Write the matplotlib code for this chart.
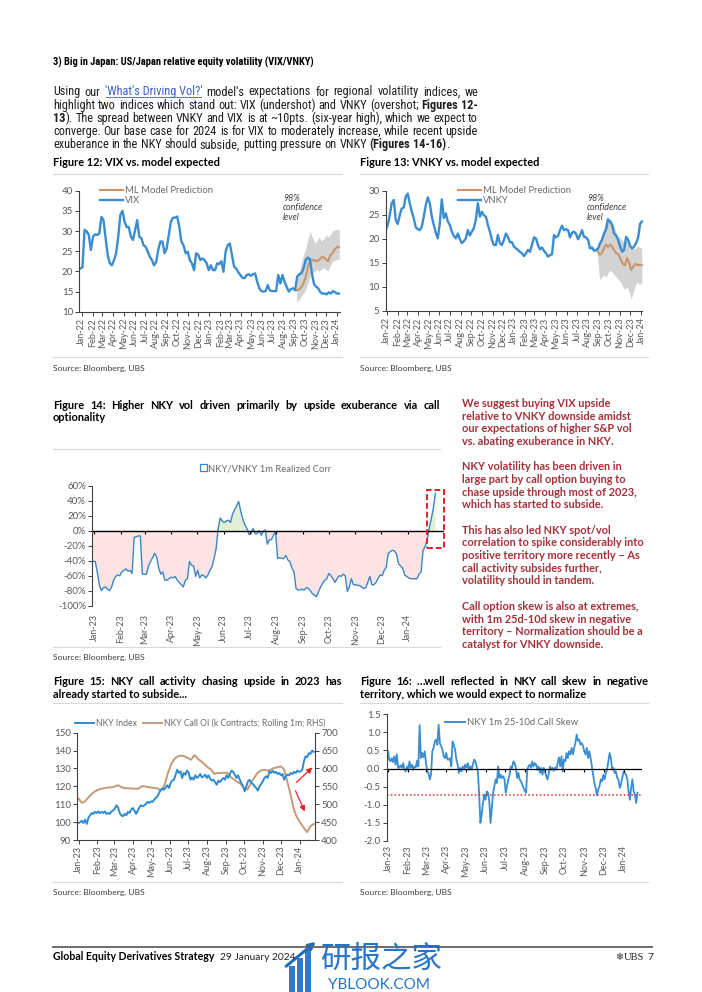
import os
import numpy as np
import pandas as pd
import matplotlib
matplotlib.use('Agg')
import matplotlib.pyplot as plt
import matplotlib.dates as mdates
from matplotlib import font_manager as fm
from matplotlib.font_manager import FontProperties
from matplotlib.lines import Line2D
from matplotlib.patches import Rectangle, FancyArrowPatch, Patch

plt.rcParams['font.family'] = ['Lato', 'DejaVu Sans']

# ---------------- data ----------------
vix = [20.7, 21.0, 30.3, 29.9, 29.0, 25.3, 28.6, 29.2, 29.0, 29.4, 33.5, 32.7, 28.2, 24.0, 22.0, 21.5,
       22.8, 24.5, 28.6, 34.0, 35.0, 32.3, 31.0, 31.0, 28.6, 27.8, 30.2, 32.7, 28.6, 28.2, 26.5, 26.1,
       24.9, 23.6, 22.8, 21.5, 22.3, 25.3, 27.4, 27.4, 24.5, 25.7, 29.0, 32.3, 33.3, 33.3, 33.6, 31.0,
       27.4, 26.5, 24.5, 24.9, 22.8, 22.0, 20.3, 24.5, 24.1, 22.8, 23.2, 22.8, 22.0, 20.3, 21.5, 20.3,
       20.3, 22.0, 21.8, 22.5, 19.9, 24.9, 26.5, 26.9, 24.1, 21.2, 20.7, 19.8, 19.1, 18.4, 18.3, 19.1,
       19.3, 18.9, 19.3, 19.5, 17.4, 15.8, 15.1, 15.0, 15.1, 16.6, 15.3, 15.1, 15.1, 15.1, 19.1, 17.0,
       19.1, 17.4, 16.2, 15.0, 15.6, 15.8, 15.3, 18.7, 19.3, 19.5, 20.7, 22.8, 23.4, 23.1, 19.5, 16.8,
       16.2, 15.8, 14.8, 14.5, 14.5, 14.3, 14.8, 14.5, 15.1, 14.8, 14.5, 14.5]
vix_span = ('2021-12-28', '2024-01-08')
vix_pred = [15.3, 15.5, 16.0, 17.0, 18.5, 21.0, 22.8, 22.7, 22.8, 22.5, 22.8, 23.5, 23.5, 23.0,
            22.5, 24.0, 24.5, 25.5, 26.0, 26.0]
vix_hi = [17.0, 19.5, 22.0, 24.0, 25.5, 28.0, 29.8, 28.5, 27.0, 27.5, 28.5, 27.5, 28.0, 29.0,
          28.5, 29.0, 30.0, 30.3, 30.5, 30.3]
vix_lo = [12.5, 13.0, 13.8, 14.5, 15.5, 17.0, 18.5, 19.5, 20.0, 20.5, 20.0, 20.5, 21.0, 20.5,
          20.0, 21.5, 22.5, 22.8, 23.0, 23.0]
vix_pred_span = ('2023-09-08', '2024-01-08')

vnky = [21.8, 22.9, 24.9, 27.4, 28.1, 23.9, 23.1, 24.9, 26.3, 26.5, 28.8, 29.4, 27.4, 25.6, 24.3, 22.4,
        22.0, 21.8, 22.5, 24.6, 27.0, 28.6, 27.4, 24.6, 22.9, 21.3, 20.1, 23.2, 28.2, 24.3, 25.3, 23.6,
        22.9, 21.5, 20.6, 20.1, 21.1, 19.9, 19.1, 19.5, 20.1, 21.8, 20.7, 21.5, 22.2, 24.0, 27.4, 24.6,
        25.6, 24.9, 24.6, 22.9, 21.5, 19.8, 18.7, 18.7, 20.8, 19.1, 18.7, 19.8, 21.1, 20.4, 19.3, 19.3,
        18.4, 18.0, 17.7, 17.3, 17.0, 16.4, 17.0, 17.7, 17.3, 18.7, 20.3, 20.1, 18.7, 17.8, 18.2, 17.5,
        17.0, 16.3, 16.6, 16.8, 20.8, 20.3, 20.6, 21.8, 22.7, 21.8, 22.0, 21.8, 20.3, 21.3, 21.5, 21.0,
        19.9, 20.8, 21.8, 20.4, 20.3, 19.8, 18.0, 18.2, 17.5, 17.7, 18.0, 19.1, 19.8, 21.1, 22.0, 24.0,
        23.6, 22.9, 21.1, 20.7, 19.8, 18.4, 17.3, 17.7, 20.4, 19.8, 18.5, 18.0, 18.4, 19.1, 20.3, 23.2, 23.6]
vnky_span = ('2021-12-29', '2024-01-04')
vnky_pred = [17.5, 16.7, 17.0, 18.0, 18.8, 18.3, 18.8, 18.3, 17.5, 17.0, 16.7, 15.7, 14.8, 14.5,
             16.0, 15.0, 13.5, 14.3, 14.8, 14.5, 14.6, 14.5]
vnky_hi = [18.0, 19.5, 21.0, 22.0, 24.5, 24.5, 24.0, 23.5, 22.5, 21.0, 20.5, 20.0, 19.5, 19.5,
           19.5, 19.0, 18.5, 18.0, 18.0, 18.5, 18.3, 18.0]
vnky_lo = [16.0, 11.5, 12.0, 12.5, 12.0, 13.0, 13.5, 13.0, 12.5, 12.0, 11.5, 11.0, 10.0, 9.5,
           10.0, 9.0, 7.5, 9.0, 10.5, 11.0, 10.5, 11.0]
vnky_pred_span = ('2023-08-29', '2024-01-03')

corr = [-41, -41, -55, -72, -80, -76, -75, -78, -80, -75, -66, -61, -59, -60, -55, -53, -51, -54, -53, -57,
        -9, -8, -7, -7, -58, -58, -58, -47, -41, -36, -30, -35, -50, -58, -55, -66, -66, -64, -62, -63,
        -61, -66, -69, -72, -75, -66, -64, -41, -46, -47, -61, -53, -63, -59, -60, -63, -59, -53, -48, -37,
        -24, 3, 17, 13, 11, 13, 14, 11, 22, 28, 33, 39, 26, 16, 8, 3, -5, -4, 3, -4,
        -4, 0, -6, -1, 1, -18, -12, -12, -6, -1, -37, -36, -37, -37, -33, -39, -41, -50, -55, -77,
        -79, -79, -78, -79, -76, -77, -80, -84, -86, -88, -81, -75, -70, -66, -64, -57, -60, -64, -69, -64,
        -60, -61, -58, -60, -81, -75, -64, -72, -72, -73, -73, -75, -77, -76, -69, -61, -72, -72, -69, -64,
        -59, -60, -53, -49, -30, -28, -26, -27, -31, -44, -47, -50, -59, -61, -63, -64, -64, -64, -64, -58,
        -55, -26, -21, -12, 4, 16, 30, 50]
corr_span = ('2022-12-31', '2024-02-02')

nky = [99.5, 100, 100.8, 99.5, 101.4, 99, 102.3, 103.8, 105.1, 104.6, 105.7, 105.1, 106, 105.1, 105.7,
       105.1, 106, 104.6, 105.1, 104.6, 106, 106.4, 107.5, 109.4, 108.3, 105.1, 103.8, 103.3, 104.6, 103.8,
       105.7, 105.1, 107, 107.9, 106.4, 104.6, 106.4, 108.3, 109.4, 108.8, 109.4, 110.1, 111.3, 110.7, 111.6,
       111.3, 112.6, 113.5, 114.4, 116.3, 118.2, 118.7, 118.2, 119.5, 120.6, 119.1, 121.9, 123.2, 123.7, 126.5,
       129.3, 127.5, 128.4, 124.7, 127.5, 126.5, 128.8, 127.5, 123.7, 125, 123.7, 126.2, 124.7, 125.6, 126.9,
       125, 125.6, 126.5, 124.7, 126.2, 124.3, 123.2, 123.7, 122.4, 120.9, 123.2, 122.4, 123.7, 124.7, 123.7,
       126.2, 124.7, 126.9, 128.8, 128.1, 126.5, 124.7, 126.2, 123.7, 121.9, 120, 117.2, 120, 122.8, 123.7,
       121.9, 121.3, 120, 119.1, 117.6, 120, 121.3, 122.8, 124.7, 125.6, 124.7, 128.4, 127.5, 128.8, 127.5,
       128.1, 126.9, 127.5, 126.2, 126.9, 123.7, 125.6, 126.5, 126.2, 127.5, 126.9, 128.1, 127.5, 128.8, 128.1,
       128.4, 129.3, 134, 136.8, 136.3, 138.6, 138.1, 140, 139.3]
nky_oi = [515.7, 504, 508, 519.4, 528.7, 536, 541, 543.6, 545.5, 547, 547, 550, 553, 547.5, 545, 544.6,
          544, 543.5, 543, 550, 550, 548, 546.5, 545.5, 543.6, 538, 554.8, 587.4, 612.5, 627.4, 634, 635.8,
          634, 629.2, 624.6, 637.5, 627.4, 620, 612.5, 603.2, 596.7, 584.6, 587.4, 587.4, 588.3, 587.4, 575.3,
          568.7, 562.2, 556.6, 545, 541, 559.4, 573.4, 587.4, 593.9, 596.7, 593.9, 596.7, 601.3, 603.2, 606,
          598, 564, 526.8, 485, 461.7, 447.7, 433.7, 422, 438.4, 444.9]
nky_span = ('2023-01-01', '2024-01-24')

skew = [0.50, 0.48, 0.25, 0.20, 0.29, 0.18, 0.34, 0.11, 0.39, 0.02, 0.03, 0.09, 0.02, 0.15, -0.03, -0.08,
        0.06, -0.03, 0.20, 0.02, 0.11, -0.03, 0.06, 0.03, 0.22, 0.06, 1.20, 0.29, 0.43, 0.31, 0.48, 0.15,
        -0.08, -0.12, -0.30, -0.17, 0.48, 0.57, 0.75, 0.80, 0.66, 1.21, 0.70, 0.62, 0.52, 0.34, 0.29, 0.43,
        0.25, 0.25, 0.29, 0.06, 0.75, 0.66, 0.52, 0.25, 0.11, -0.12, 0.02, -0.08, 0.06, -0.03, 0.11, 0.02,
        0.15, -0.03, 0.06, -0.03, 0.11, 0.25, 0.20, 0.06, -0.08, -0.72, -1.50, -1.27, -0.95, -0.72, -0.86,
        -0.63, -0.67, -0.90, -1.50, -1.09, -0.67, -0.49, -0.30, -0.40, 0.06, -0.26, -0.17, -0.26, -0.21,
        -0.30, -0.67, -0.49, -0.30, -0.17, 0.06, 0.02, 0.20, 0.15, 0.02, -0.26, -0.12, -0.30, -0.35, -0.44,
        -0.53, -0.61, -0.67, -0.03, 0.06, 0.11, 0.02, 0.20, 0.06, 0.15, 0.11, -0.03, 0.06, -0.12, 0.02,
        -0.17, 0.02, -0.08, -0.21, -0.30, -0.12, 0.06, -0.03, 0.02, -0.06, 0.03, -0.03, 0.15, 0.31, 0.06,
        0.34, -0.08, 0.25, 0.20, 0.43, 0.29, 0.48, 0.39, 0.57, 0.39, 0.57, 0.71, 0.94, 0.77, 0.80, 0.66,
        0.71, 0.62, 0.48, 0.39, 0.57, 0.29, 0.48, 0.29, 0.06, -0.17, -0.40, -0.53, -0.74, -0.58, -0.49,
        -0.30, -0.35, -0.17, -0.30, -0.12, -0.03, 0.20, 0.43, 0.29, -0.03, 0.02, -0.12, -0.08, -0.26, -0.30,
        -0.53, -0.44, -0.26, -0.08, -0.12, -0.17, -0.30, -0.63, -0.86, -0.53, -0.30, -0.63, -0.72, -0.95, -0.67]
skew_span = ('2022-12-30', '2024-01-22')
skew_threshold = -0.72

months22 = pd.date_range('2022-01-01', '2024-01-01', freq='MS')
months23 = pd.date_range('2023-01-01', '2024-01-01', freq='MS')

# ---------------- fonts ----------------
def find_file(patterns, bold):
    bad = ('italic', 'oblique', 'semi', 'light', 'black', 'extra', 'medium', 'thin')
    for pat in patterns:
        for f in fm.fontManager.ttflist:
            b = os.path.basename(f.fname).lower().replace(' ', '').replace('_', '')
            if pat in b and not any(k in b for k in bad):
                isbold = 'bold' in b
                if isbold == bold:
                    return f.fname
    return None


COND_PATS = ['robotocondensed', 'liberationsansnarrow', 'opensanscondensed', 'notosans-condensed',
             'notosanscondensed', 'dejavusanscondensed']
_cr = find_file(COND_PATS, False)
_cb = find_file(COND_PATS, True)


def cond_fp(size, bold=False):
    f = _cb if bold else _cr
    if f:
        return FontProperties(fname=f, size=size)
    return FontProperties(family='Lato', weight='bold' if bold else 'normal', size=size)


# ---------------- styling ----------------
BLUE = '#3a8dd0'
BROWN = '#c8956d'
TAN = '#c49a78'
TC = '#595959'
SP = '#404040'
SEP = '#d9d9d9'
RED_TXT = '#a5303a'
TXT = '#1e1e1e'

W, H = 702, 992
fig = plt.figure(figsize=(7.02, 9.92), dpi=100)
fig.patch.set_facecolor('white')
R = fig.canvas.get_renderer()


def fx(x):
    return x / W


def fy(y):
    return 1 - y / H


def add_ax(x0, y0, x1, y1):
    return fig.add_axes([fx(x0), fy(y1), (x1 - x0) / W, (y1 - y0) / H])


def tw(s, **kw):
    t = fig.text(0, 0, s, **kw)
    w = t.get_window_extent(R).width
    t.remove()
    return w


def hline(x0, x1, y, color=SEP, lw=0.8):
    fig.add_artist(Line2D([fx(x0), fx(x1)], [fy(y), fy(y)], color=color, lw=lw))


def dr(span, n):
    return pd.date_range(span[0], span[1], periods=n)


# ---------------- text helpers ----------------
def parse_tokens(line):
    words = []
    bold = False
    for tok in line.split(' '):
        link = tok.startswith('@')
        if link:
            tok = tok[1:].replace('_', ' ')
        parts = tok.split('*')
        segs = []
        for i, p in enumerate(parts):
            if i > 0:
                bold = not bold
            if p:
                segs.append((p, 'L' if link else ('B' if bold else 'N')))
        words.append(segs)
    return words


def draw_words(words, styles, x0, x1, yb, justify=True):
    widths = [sum(tw(s, **styles[k]) for s, k in w) for w in words]
    total = sum(widths)
    if justify and len(words) > 1:
        gap = (x1 - x0 - total) / (len(words) - 1)
    else:
        gap = tw('a a', **styles['N']) - tw('aa', **styles['N'])
    x = x0
    for w, wd in zip(words, widths):
        xx = x
        for s, k in w:
            fig.text(fx(xx), fy(yb), s, ha='left', va='baseline', **styles[k])
            sw = tw(s, **styles[k])
            if k == 'L':
                fig.add_artist(Line2D([fx(xx + 1), fx(xx + sw - 1)], [fy(yb + 1.6)] * 2,
                                      color=styles[k]['color'], lw=0.6))
            xx += sw
        x += wd + gap


# ---------------- page text ----------------
HEAD = '3) Big in Japan: US/Japan relative equity volatility (VIX/VNKY)'
hs = 10 * 262 / tw(HEAD, fontproperties=cond_fp(10, True))
fig.text(fx(53), fy(65.5), HEAD, fontproperties=cond_fp(hs, True), color='black', va='baseline')

body = ["Using our @'What's_Driving_Vol?' model's expectations for regional volatility indices, we",
        "highlight two indices which stand out: VIX (undershot) and VNKY (overshot; *Figures 12-*",
        "*13*). The spread between VNKY and VIX is at ~10pts. (six-year high), which we expect to",
        "converge. Our base case for 2024 is for VIX to moderately increase, while recent upside",
        "exuberance in the NKY should subside, putting pressure on VNKY *(Figures 14-16)*."]
bsz = 10 * 410 / tw("Using our 'What's Driving Vol?' model's expectations for regional volatility indices, we",
                    fontproperties=cond_fp(10))
bstyles = {'N': dict(fontproperties=cond_fp(bsz), color=TXT),
           'B': dict(fontproperties=cond_fp(bsz, True), color=TXT),
           'L': dict(fontproperties=cond_fp(bsz), color='#3d5fc4')}
for i, ln in enumerate(body):
    draw_words(parse_tokens(ln), bstyles, 53, 478, 95.5 + i * 13.2, justify=(i < len(body) - 1))

TSZ = 7.9
tstyles = {'N': dict(fontsize=TSZ, color='black', fontweight='bold'),
           'B': dict(fontsize=TSZ, color='black', fontweight='bold'),
           'L': dict(fontsize=TSZ, color='black', fontweight='bold')}

fig.text(fx(53), fy(166.5), 'Figure 12: VIX vs. model expected', fontsize=TSZ, fontweight='bold', va='baseline')
fig.text(fx(360), fy(166.5), 'Figure 13: VNKY vs. model expected', fontsize=TSZ, fontweight='bold', va='baseline')
hline(53, 342, 174)
hline(360, 648, 174)
hline(53, 342, 357)
hline(360, 648, 357)
SRC = dict(fontsize=6.1, color='#404040', va='baseline')
fig.text(fx(53), fy(371), 'Source: Bloomberg, UBS', **SRC)
fig.text(fx(360), fy(371), 'Source: Bloomberg, UBS', **SRC)

draw_words(parse_tokens('Figure 14: Higher NKY vol driven primarily by upside exuberance via call'),
           tstyles, 53, 440, 408.5, justify=True)
fig.text(fx(53), fy(421), 'optionality', fontsize=TSZ, fontweight='bold', va='baseline')
hline(53, 440, 449)
hline(53, 440, 647)
fig.text(fx(53), fy(660), 'Source: Bloomberg, UBS', **SRC)

draw_words(parse_tokens('Figure 15: NKY call activity chasing upside in 2023 has'),
           tstyles, 53, 342, 685, justify=True)
fig.text(fx(53), fy(697.5), 'already started to subside...', fontsize=TSZ, fontweight='bold', va='baseline')
draw_words(parse_tokens('Figure 16: \u2026well reflected in NKY call skew in negative'),
           tstyles, 360, 648, 685, justify=True)
fig.text(fx(360), fy(697.5), 'territory, which we would expect to normalize', fontsize=TSZ, fontweight='bold',
         va='baseline')
hline(53, 342, 703)
hline(360, 648, 703)
hline(53, 342, 882)
hline(360, 648, 882)
fig.text(fx(53), fy(895), 'Source: Bloomberg, UBS', **SRC)
fig.text(fx(360), fy(895), 'Source: Bloomberg, UBS', **SRC)

red_paras = [
    ["We suggest buying VIX upside", "relative to VNKY downside amidst", "our expectations of higher S&P vol",
     "vs. abating exuberance in NKY."],
    ["NKY volatility has been driven in", "large part by call option buying to",
     "chase upside through most of 2023,", "which has started to subside."],
    ["This has also led NKY spot/vol", "correlation to spike considerably into",
     "positive territory more recently \u2013 As", "call activity subsides further,", "volatility should in tandem."],
    ["Call option skew is also at extremes,", "with 1m 25d-10d skew in negative",
     "territory \u2013 Normalization should be a", "catalyst for VNKY downside."]]
red_y = [[404.3, 417, 429.3, 442], [467, 480, 492.7, 505], [530.7, 543.3, 556, 568.7, 581.3],
         [607, 619.7, 632.3, 645]]
rsz = 10 * 183 / tw("correlation to spike considerably into", fontsize=10, fontweight='bold')
for para, ys in zip(red_paras, red_y):
    for s, y in zip(para, ys):
        fig.text(fx(462), fy(y + 3), s, fontsize=rsz, fontweight='bold', color=RED_TXT, va='baseline')

# footer
hline(53, 652, 947, color='#606060', lw=1.3)
fig.text(fx(53), fy(960), 'Global Equity Derivatives Strategy', fontsize=7.6, fontweight='bold', va='baseline')
fig.text(fx(220), fy(960), '29 January 2024', fontsize=7.4, va='baseline', color='#222222')
fig.text(fx(615), fy(960), '\u2744', fontsize=7, va='baseline', family=['DejaVu Sans'], color='#333333')
fig.text(fx(624), fy(960), 'UBS', fontsize=7.6, va='baseline', family=['Liberation Serif', 'DejaVu Serif'],
         color='#222222')
fig.text(fx(647), fy(960), '7', fontsize=7.4, va='baseline', color='#222222')

# watermark
WM = '#1c6cc4'
for bx, btop in [(289, 966), (297, 958), (305, 950)]:
    fig.add_artist(Rectangle((fx(bx), 0), 6 / W, (H - btop) / H, color=WM, alpha=0.9, lw=0))
fig.add_artist(FancyArrowPatch((fx(284), fy(968)), (fx(318), fy(940)), transform=fig.transFigure,
                               arrowstyle='-|>', mutation_scale=10, color=WM, lw=2.2))
fig.text(fx(320), fy(968), '研报之家', fontsize=22, color=WM, family=['Noto Sans CJK SC', 'DejaVu Sans'],
         va='baseline', alpha=0.95)
fig.text(fx(328), fy(989), 'YBLOOK.COM', fontsize=11, color=WM, va='baseline', alpha=0.95)


# ---------------- axes helpers ----------------
def base_style(ax, spines=('left', 'bottom')):
    for s in ax.spines:
        ax.spines[s].set_visible(s in spines)
        ax.spines[s].set_color(SP)
        ax.spines[s].set_linewidth(0.8)
    ax.tick_params(colors=SP, labelcolor=TC, labelsize=7, length=3, width=0.7, direction='out', pad=1.5)
    ax.set_facecolor('none')


def month_ticks(ax, ticks, size=6.5, pad=1.5, length=3):
    ax.set_xticks(ticks)
    ax.set_xticklabels([d.strftime('%b-%y') for d in ticks], rotation=90, fontsize=size, color=TC)
    ax.tick_params(axis='x', pad=pad, length=length)


LSZ = 6.8


def legend(ax, handles, labels, x, ytop, ncol=1, **kw):
    lg = ax.legend(handles, labels, loc='upper left', bbox_to_anchor=(fx(x), fy(ytop)),
                   bbox_transform=fig.transFigure, frameon=False, ncol=ncol, borderpad=0,
                   handlelength=kw.pop('handlelength', 2.4), handletextpad=kw.pop('handletextpad', 0.25),
                   labelspacing=kw.pop('labelspacing', 0.12), fontsize=kw.pop('fontsize', LSZ),
                   borderaxespad=0, **kw)
    for t in lg.get_texts():
        t.set_color('#6a6a6a')
    return lg


# ---------------- Figure 12 ----------------
ax = add_ax(79.3, 190.7, 340, 311.7)
base_style(ax)
pdts = dr(vix_pred_span, len(vix_pred))
ax.fill_between(pdts, vix_lo, vix_hi, color='#cfcfcf', lw=0, alpha=0.9)
ax.plot(pdts, vix_pred, color=BROWN, lw=1.5)
ax.plot(dr(vix_span, len(vix)), vix, color=BLUE, lw=1.7)
ax.set_ylim(10, 40)
ax.set_yticks(range(10, 41, 5))
ax.set_xlim(pd.Timestamp('2021-12-25'), pd.Timestamp('2024-01-10'))
month_ticks(ax, months22)
legend(ax, [Line2D([], [], color=BROWN, lw=1.5), Line2D([], [], color=BLUE, lw=1.7)],
       ['ML Model Prediction', 'VIX'], 100, 186)
fig.text(fx(283), fy(194), '98%\nconfidence\nlevel', fontsize=6.4, style='italic', color='#404040',
         va='top', linespacing=1.05)

# ---------------- Figure 13 ----------------
ax = add_ax(385.7, 190.7, 642.5, 311)
base_style(ax)
pdts = dr(vnky_pred_span, len(vnky_pred))
ax.fill_between(pdts, vnky_lo, vnky_hi, color='#cfcfcf', lw=0, alpha=0.9)
ax.plot(pdts, vnky_pred, color=BROWN, lw=1.5)
ax.plot(dr(vnky_span, len(vnky)), vnky, color=BLUE, lw=1.7)
ax.set_ylim(5, 30)
ax.set_yticks(range(5, 31, 5))
ax.set_xlim(pd.Timestamp('2021-12-29'), pd.Timestamp('2024-01-05'))
month_ticks(ax, months22)
legend(ax, [Line2D([], [], color=BROWN, lw=1.5), Line2D([], [], color=BLUE, lw=1.7)],
       ['ML Model Prediction', 'VNKY'], 458, 186)
fig.text(fx(587), fy(194), '98%\nconfidence\nlevel', fontsize=6.4, style='italic', color='#404040',
         va='top', linespacing=1.05)

# ---------------- Figure 14 ----------------
ax = add_ax(92.3, 485.7, 444, 605.7)
base_style(ax, spines=('left',))
cd = dr(corr_span, len(corr))
c = np.array(corr, dtype=float)
ax.fill_between(cd, c, 0, where=c <= 0, interpolate=True, color='#fde3e3', lw=0)
ax.fill_between(cd, c, 0, where=c >= 0, interpolate=True, color='#e3efd7', lw=0)
ax.plot(cd, c, color='#3b86c4', lw=1.0)
ax.axhline(0, color='black', lw=1.0)
ax.plot(months23, np.zeros(len(months23)), ls='none', marker=3, ms=2.5, mew=0.8, color='black')
ax.set_ylim(-100, 60)
ax.set_yticks(range(-100, 61, 20))
ax.set_yticklabels([f'{v}%' for v in range(-100, 61, 20)])
ax.set_xlim(pd.Timestamp('2022-12-30'), pd.Timestamp('2024-02-12'))
month_ticks(ax, months23, pad=6, length=0)
d0 = mdates.date2num(pd.Timestamp('2024-01-23'))
d1 = mdates.date2num(pd.Timestamp('2024-02-12'))
ax.add_patch(Rectangle((d0, -23), d1 - d0, 77, fill=False, ec='#e02020', ls=(0, (3, 1.5)), lw=1.4,
                       clip_on=False, zorder=5))
legend(ax, [Patch(facecolor='white', edgecolor='#3b86c4', lw=0.9)], ['NKY/VNKY 1m Realized Corr'],
       200, 464, handlelength=0.75, handleheight=0.75, handletextpad=0.1)

# ---------------- Figure 15 ----------------
ax = add_ax(77.3, 732.7, 315, 840)
base_style(ax, spines=('left', 'bottom'))
axr = ax.twinx()
base_style(axr, spines=('right',))
axr.plot(dr(nky_span, len(nky_oi)), nky_oi, color=TAN, lw=1.4)
ax.plot(dr(nky_span, len(nky)), nky, color='#2f8bd0', lw=1.4)
ax.set_zorder(axr.get_zorder() + 1)
ax.set_ylim(90, 150)
ax.set_yticks(range(90, 151, 10))
axr.set_ylim(400, 700)
axr.set_yticks(range(400, 701, 50))
ax.set_xlim(pd.Timestamp('2022-12-30'), pd.Timestamp('2024-01-26'))
month_ticks(ax, months23, pad=1)
a0 = mdates.date2num(pd.Timestamp('2023-12-23'))
a1 = mdates.date2num(pd.Timestamp('2024-01-25'))
a2 = mdates.date2num(pd.Timestamp('2024-01-11'))
ax.annotate('', xy=(a1, 131.6), xytext=(a0, 121.2),
            arrowprops=dict(arrowstyle='-|>', color='#e8242a', lw=0.9, mutation_scale=8))
ax.annotate('', xy=(a2, 104.5), xytext=(a0, 118.9),
            arrowprops=dict(arrowstyle='-|>', color='#e8242a', lw=0.9, mutation_scale=8))
legend(ax, [Line2D([], [], color='#2f8bd0', lw=1.4), Line2D([], [], color=TAN, lw=1.4)],
       ['NKY Index', 'NKY Call OI (k Contracts; Rolling 1m; RHS)'], 75, 718, ncol=2,
       handlelength=2.2, columnspacing=0.7, fontsize=6.2)

# ---------------- Figure 16 ----------------
ax = add_ax(386.7, 714.3, 642, 841)
base_style(ax, spines=('left',))
ax.plot(dr(skew_span, len(skew)), skew, color=BLUE, lw=1.3)
ax.axhline(0, color='black', lw=0.9)
ax.plot(months23, np.zeros(len(months23)), ls='none', marker=3, ms=2.5, mew=0.8, color='black')
ax.axhline(skew_threshold, color='#e03030', lw=1.1, ls=(0, (1, 1.5)))
ax.set_ylim(-2.0, 1.5)
ax.set_yticks(np.arange(-2.0, 1.51, 0.5))
ax.set_yticklabels([f'{v:.1f}' for v in np.arange(-2.0, 1.51, 0.5)])
ax.set_xlim(pd.Timestamp('2022-12-30'), pd.Timestamp('2024-01-29'))
month_ticks(ax, months23, pad=3, length=0)
legend(ax, [Line2D([], [], color=BLUE, lw=1.4)], ['NKY 1m 25-10d Call Skew'], 445, 718, handlelength=2.1)

fig.savefig('out.png', dpi=100)
